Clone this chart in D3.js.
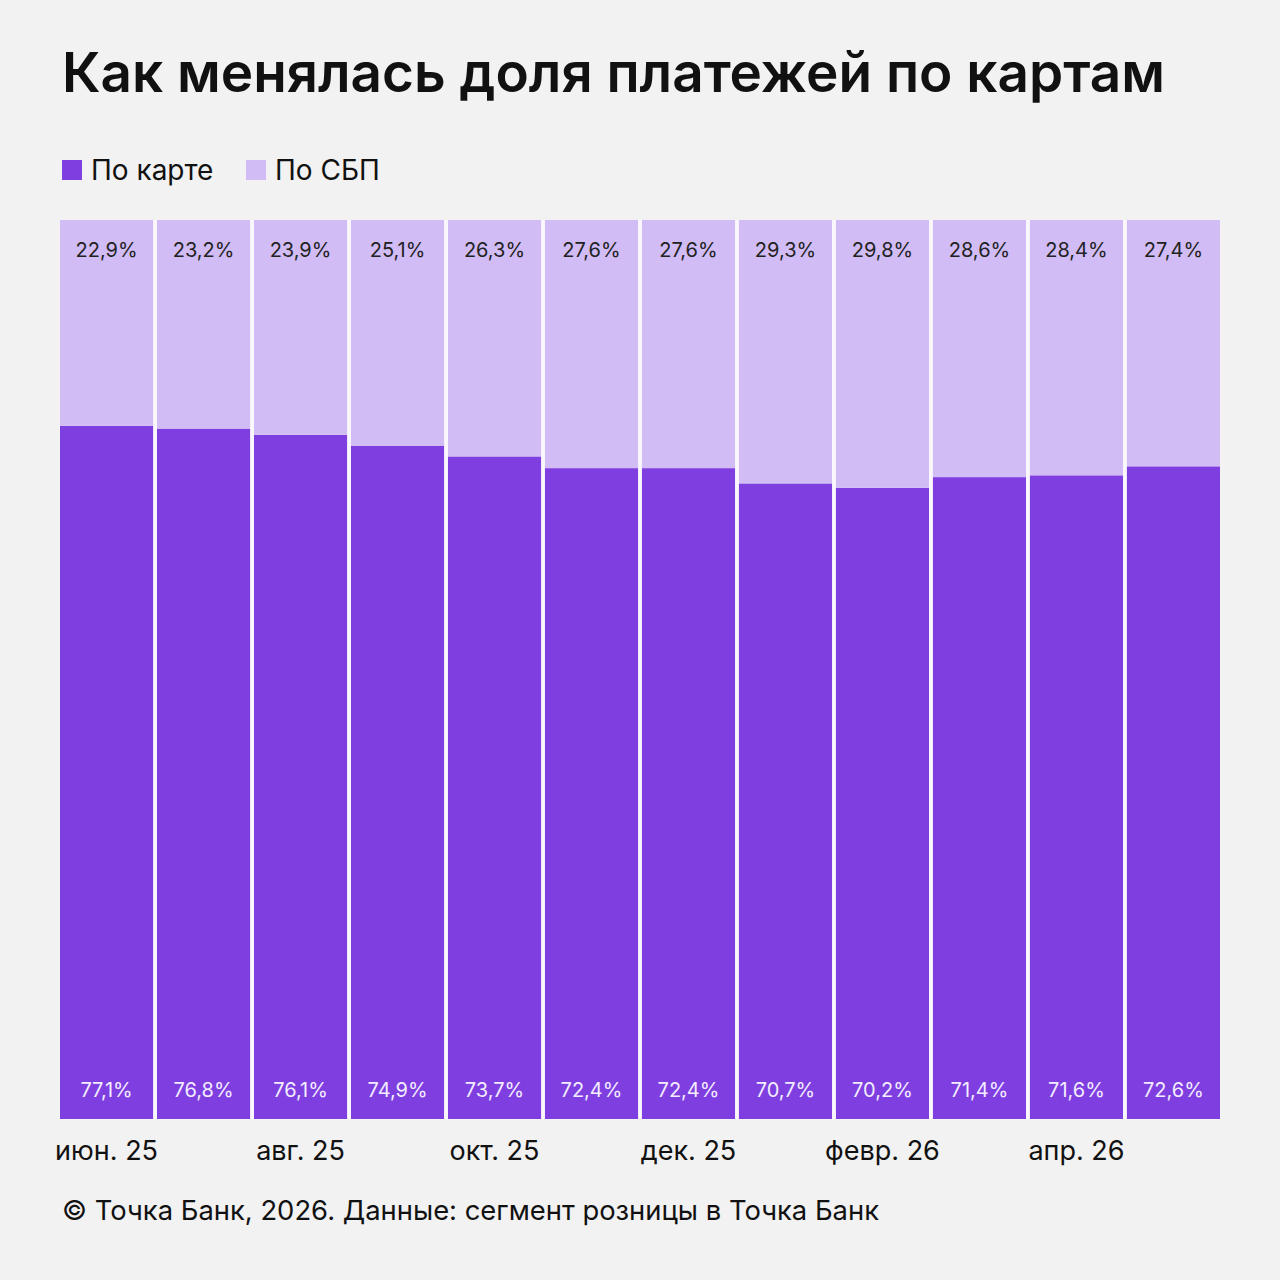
<!DOCTYPE html>
<html lang="ru">
<head>
<meta charset="UTF-8">
<title>Доля платежей по картам</title>
<script src="https://d3js.org/d3.v7.min.js"></script>
<style>
  html, body { margin: 0; padding: 0; background: #f2f2f2; }
  svg { display: block; font-family: Inter, "Noto Sans", sans-serif; }
</style>
</head>
<body>
<svg width="1280" height="1280"></svg>
<script>
// данные
const months = ["июн. 25","июл. 25","авг. 25","сент. 25","окт. 25","нояб. 25","дек. 25","янв. 26","февр. 26","мар. 26","апр. 26","май 26"];
const cardShare = [77.1, 76.8, 76.1, 74.9, 73.7, 72.4, 72.4, 70.7, 70.2, 71.4, 71.6, 72.6];
const sbpShare  = [22.9, 23.2, 23.9, 25.1, 26.3, 27.6, 27.6, 29.3, 29.8, 28.6, 28.4, 27.4];
const tickMonths = ["июн. 25","авг. 25","окт. 25","дек. 25","февр. 26","апр. 26"];
const seriesNames = ["По карте", "По СБП"];

const colCard = "#7f3fe0", colSbp = "#d1bcf6";
const svg = d3.select("svg");
const fmt = v => d3.format(".1f")(v).replace(".", ",") + "%";

// title
svg.append("text")
  .attr("x", 62).attr("y", 92)
  .attr("font-size", 55).attr("font-weight", 600).attr("fill", "#111")
  .attr("textLength", 1103).attr("lengthAdjust", "spacingAndGlyphs")
  .text("Как менялась доля платежей по картам");

// legend
const leg = svg.append("g").attr("transform", "translate(62,160)");
let lx = 0;
seriesNames.forEach((name, i) => {
  const g = leg.append("g").attr("transform", `translate(${lx},0)`);
  g.append("rect").attr("width", 20).attr("height", 20).attr("fill", i === 0 ? colCard : colSbp);
  g.append("text").attr("x", 29).attr("y", 20).attr("font-size", 28).attr("fill", "#111").text(name);
  lx += 184;
});

const plotTop = 220, plotBottom = 1119;
const x = d3.scaleBand().domain(months).range([60, 1220]).paddingInner(0.04);
const y = d3.scaleLinear().domain([0, 100]).range([plotBottom, plotTop]);

const data = months.map((m, i) => ({ m, card: cardShare[i], sbp: sbpShare[i] }));

// светлые разделители между столбцами
svg.append("rect").attr("x", 60).attr("y", plotTop).attr("width", 1160).attr("height", plotBottom - plotTop).attr("fill", "#fbf8fd");

const bars = svg.selectAll("g.bar").data(data).join("g").attr("class", "bar");
bars.append("rect")
  .attr("x", d => x(d.m)).attr("width", x.bandwidth())
  .attr("y", d => y(d.card)).attr("height", d => y(0) - y(d.card))
  .attr("fill", colCard);
bars.append("rect")
  .attr("x", d => x(d.m)).attr("width", x.bandwidth())
  .attr("y", d => y(100)).attr("height", d => y(d.card) - y(100))
  .attr("fill", colSbp);
bars.append("text")
  .attr("x", d => x(d.m) + x.bandwidth() / 2).attr("y", plotTop + 37)
  .attr("text-anchor", "middle").attr("font-size", 20).attr("fill", "#222")
  .text(d => fmt(d.sbp));
bars.append("text")
  .attr("x", d => x(d.m) + x.bandwidth() / 2).attr("y", plotBottom - 22)
  .attr("text-anchor", "middle").attr("font-size", 20).attr("fill", "#f3ecff")
  .text(d => fmt(d.card));

// x axis
const xAxis = d3.axisBottom(x).tickValues(tickMonths).tickSize(0).tickPadding(0);
const ax = svg.append("g").attr("transform", `translate(0,${plotBottom + 41})`).call(xAxis);
ax.select(".domain").remove();
ax.selectAll("text").attr("font-size", 27).attr("fill", "#111").attr("font-family", "Inter, 'Noto Sans', sans-serif").attr("dy", 0);

// footer
svg.append("text")
  .attr("x", 62).attr("y", 1220)
  .attr("font-size", 27.5).attr("fill", "#111")
  .attr("textLength", 817).attr("lengthAdjust", "spacingAndGlyphs")
  .text("© Точка Банк, 2026. Данные: сегмент розницы в Точка Банк");
</script>
</body>
</html>
